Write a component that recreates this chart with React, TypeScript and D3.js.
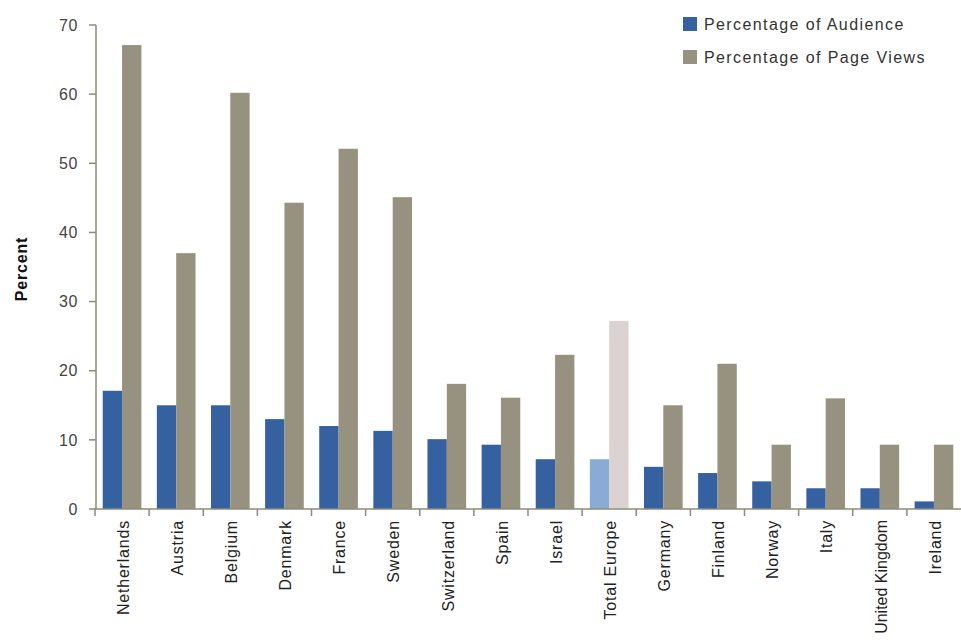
import React from "react";
import * as d3 from "d3";

const categories = [
  "Netherlands", "Austria", "Belgium", "Denmark", "France", "Sweden", "Switzerland", "Spain",
  "Israel", "Total Europe", "Germany", "Finland", "Norway", "Italy", "United Kingdom", "Ireland",
];
const audience = [17.1, 15, 15, 13, 12, 11.3, 10.1, 9.3, 7.2, 7.2, 6.1, 5.2, 4, 3, 3, 1.1];
const pageViews = [67.1, 37, 60.2, 44.3, 52.1, 45.1, 18.1, 16.1, 22.3, 27.2, 15, 21, 9.3, 16, 9.3, 9.3];
const seriesNames = ["Percentage of Audience", "Percentage of Page Views"];
const yTicks = [0, 10, 20, 30, 40, 50, 60, 70];
const highlight = "Total Europe";

const W = 961;
const H = 643;
const left = 95;
const right = 961;
const top = 25;
const bottom = 509;

const colors = ["#3561a0", "#96927f"];
const hiColors = ["#89abd6", "#dbd2d2"];
const axisColor = "#8e8b78";

export default function App() {
  const x = d3.scaleBand<string>().domain(categories).range([left, right]).paddingInner(0).paddingOuter(0);
  const xi = d3.scaleBand<string>().domain(seriesNames).range([0, x.bandwidth()]).paddingInner(0).paddingOuter(0.4);
  const y = d3.scaleLinear().domain([0, 70]).range([bottom, top]);
  const data = [audience, pageViews];

  return (
    <svg width={W} height={H} style={{ position: "absolute", left: 0, top: 0, background: "#fff" }}
      fontFamily="'Liberation Sans', Arial, sans-serif">
      {/* bars */}
      {categories.map((c, i) => (
        <g key={c}>
          {seriesNames.map((s, j) => {
            const v = data[j][i];
            const fill = c === highlight ? hiColors[j] : colors[j];
            return (
              <rect key={s} x={(x(c) as number) + (xi(s) as number)} y={y(v)} width={xi.bandwidth()}
                height={y(0) - y(v)} fill={fill} />
            );
          })}
        </g>
      ))}
      {/* y axis */}
      <line x1={96} x2={96} y1={y(70)} y2={y(0)} stroke={axisColor} strokeWidth={1.5} />
      {yTicks.map((t) => (
        <g key={t}>
          <line x1={89} x2={96} y1={y(t)} y2={y(t)} stroke={axisColor} strokeWidth={1.5} />
          <text x={78} y={y(t)} dy="0.36em" textAnchor="end" fontSize={16} fill="#444" letterSpacing={0.6}>
            {t}
          </text>
        </g>
      ))}
      {/* x axis */}
      <line x1={left} x2={right} y1={y(0)} y2={y(0)} stroke={axisColor} strokeWidth={1.5} />
      {categories.map((c) => (
        <line key={c} x1={x(c) as number} x2={x(c) as number} y1={y(0)} y2={y(0) + 7} stroke={axisColor} strokeWidth={1.5} />
      ))}
      {categories.map((c) => {
        const cx = (x(c) as number) + x.bandwidth() / 2;
        const ls = c.length > 12 ? 0 : 0.8;
        return (
          <text key={c} transform={`translate(${cx + 1},${520}) rotate(-90)`} textAnchor="end" dy="0.36em"
            fontSize={16} fill="#222" letterSpacing={ls}>
            {c}
          </text>
        );
      })}
      {/* y title */}
      <text transform={`translate(21,${269}) rotate(-90)`} textAnchor="middle" dy="0.36em" fontSize={16}
        fontWeight="bold" fill="#111" letterSpacing={0.8}>
        Percent
      </text>
      {/* legend */}
      {seriesNames.map((s, j) => (
        <g key={s} transform={`translate(683,${17 + j * 33})`}>
          <rect x={0} y={0} width={14} height={14} fill={colors[j]} />
          <text x={21} y={7} dy="0.36em" fontSize={16} fill="#333" letterSpacing={1.4}>
            {s}
          </text>
        </g>
      ))}
    </svg>
  );
}
